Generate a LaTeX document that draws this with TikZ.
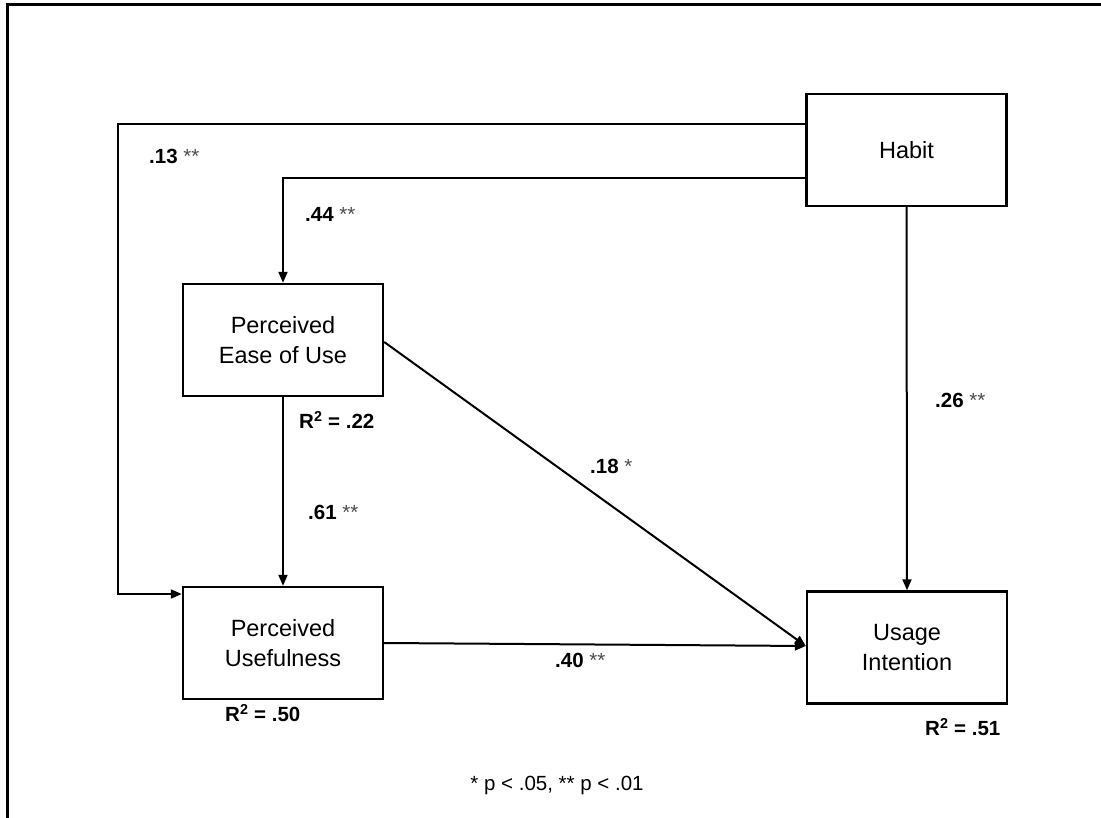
\documentclass[tikz,border=0pt]{standalone}
\usepackage{fontspec}
\setmainfont{Liberation Sans}
\usetikzlibrary{arrows.meta}
% significance stars after a coefficient: regular weight, slightly lighter
\newcommand\pstar[1]{{\mdseries\color{black!70}#1}}
\begin{document}
\begin{tikzpicture}[x=1pt,y=-1pt,
  box/.style={draw, line width=2.4pt, minimum width=200pt, minimum height=112pt,
    align=center, inner sep=0pt, font=\fontsize{23.5}{30}\selectfont},
  link/.style={line width=2pt, -{Triangle[length=11pt,width=9pt]}},
  coef/.style={anchor=west, inner sep=0pt, font=\bfseries\fontsize{20.5}{24}\selectfont},
  note/.style={inner sep=0pt, font=\fontsize{20.5}{24}\selectfont}]
\useasboundingbox (0,0) rectangle (1101,818);

% outer frame (left and top edges)
\draw[line width=3pt] (7,818) -- (7,5) -- (1101,5);

% constructs
\node[box] (habit) at (906.5,150) {Habit};
\node[box] (peou)  at (283,340)   {Perceived\\Ease of Use};
\node[box] (pu)    at (283,643)   {Perceived\\Usefulness};
\node[box] (ui)    at (907,647.5) {Usage\\Intention};

% paths
\coordinate (lbend) at (118,124);
\draw[link] ([yshift=26pt]habit.west) -- (lbend) |- ([yshift=49pt]pu.west);
\draw[link] ([yshift=-28pt]habit.west) -| (peou.north);
\draw[link] (habit.south) -- (ui.north);
\draw[link] (peou.south) -- (pu.north);
\draw[link] ([yshift=-2pt]peou.east) -- ([yshift=1.5pt]ui.west);
\draw[link] (pu.east) -- ([yshift=1.5pt]ui.west);

% path coefficients
\node[coef] (c13) at (149,156) {.13 \pstar{**}};
\node[coef] (c44) at (305,214) {.44 \pstar{**}};
\node[coef] (c61) at (308,512) {.61 \pstar{**}};
\node[coef] (c18) at (590,466) {.18 \pstar{*}};
\node[coef] (c26) at (935,400) {.26 \pstar{**}};
\node[coef] (c40) at (555,660) {.40 \pstar{**}};

% explained variance
\node[coef] (r22) at (299,420) {R\textsuperscript{2} = .22};
\node[coef] (r50) at (225,713) {R\textsuperscript{2} = .50};
\node[coef] (r51) at (925,727) {R\textsuperscript{2} = .51};

% significance legend
\node[note] (legend) at (557,785) {* p < .05, ** p < .01};
\end{tikzpicture}
\end{document}
